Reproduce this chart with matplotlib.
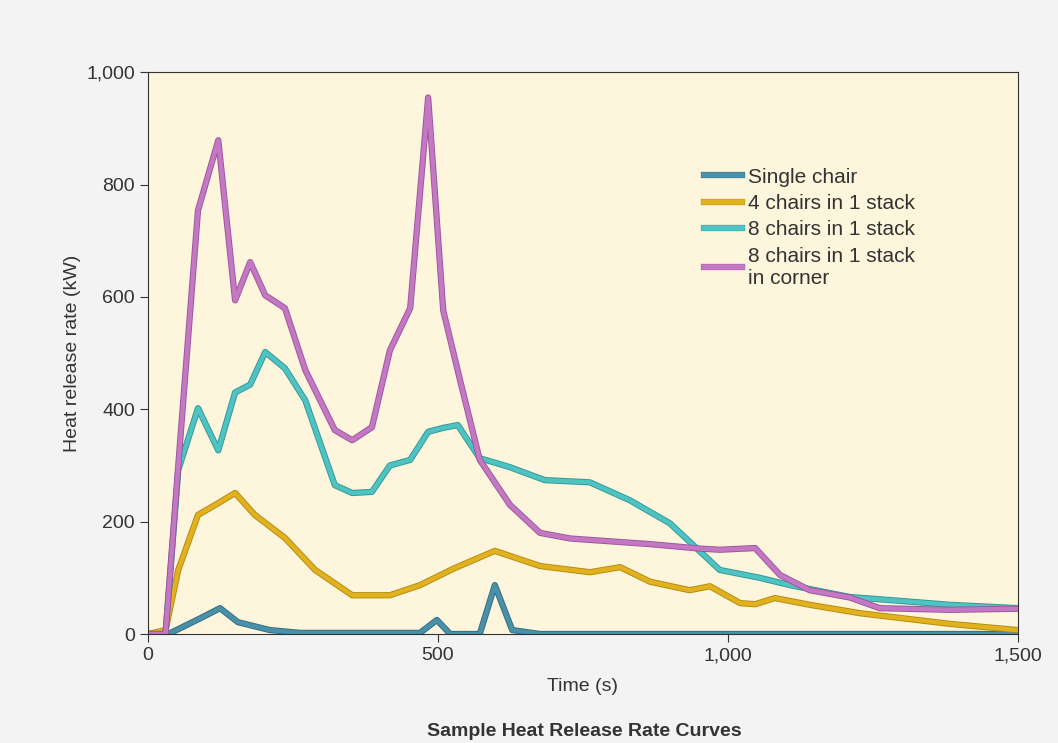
import matplotlib
matplotlib.use("Agg")
import matplotlib.pyplot as plt
import matplotlib.patheffects as pe
from matplotlib.ticker import FuncFormatter

plt.rcParams['font.family'] = ['Liberation Sans Narrow', 'Liberation Sans', 'DejaVu Sans']

single_t = [0, 35, 90, 124, 155, 210, 262, 469, 498, 521, 572, 598, 628, 676, 1500]
single_v = [0, 0, 28, 46, 21, 7, 2, 2, 25, 0, 0, 87, 7, 0, 0]

four_t = [0, 30, 52, 86, 121, 150, 184, 236, 288, 352, 417, 469, 528, 598, 676, 762, 814, 866, 934, 969, 1021, 1047, 1081, 1141, 1228, 1383, 1500]
four_v = [0, 7, 114, 212, 233, 251, 212, 171, 114, 69, 69, 87, 117, 148, 121, 110, 119, 93, 78, 85, 55, 53, 64, 52, 37, 18, 7]

eight_t = [0, 30, 52, 86, 121, 150, 176, 202, 236, 271, 322, 352, 386, 417, 452, 483, 509, 534, 572, 624, 684, 762, 831, 900, 986, 1055, 1107, 1210, 1383, 1500]
eight_v = [0, 0, 292, 402, 327, 430, 444, 502, 473, 416, 265, 251, 253, 300, 310, 360, 367, 372, 313, 297, 274, 270, 238, 197, 114, 100, 87, 66, 52, 46]

corner_t = [0, 30, 52, 86, 121, 150, 176, 202, 236, 271, 322, 352, 386, 417, 452, 483, 509, 538, 572, 624, 676, 728, 866, 952, 986, 1047, 1090, 1141, 1210, 1262, 1383, 1500]
corner_v = [0, 0, 300, 754, 879, 594, 662, 603, 580, 470, 363, 345, 368, 505, 580, 955, 576, 452, 310, 230, 180, 170, 160, 152, 150, 153, 105, 78, 65, 46, 43, 45]

fig = plt.figure(figsize=(10.58, 7.43), dpi=100, facecolor='#f3f3f3')
ax = fig.add_axes([0.14, 0.1467, 0.822, 0.756])
ax.set_facecolor('#fdf5dc')

series = [
    (single_t, single_v, '#4a90a8', '#2f6d82', 'Single chair'),
    (four_t, four_v, '#e2b11e', '#b08a10', '4 chairs in 1 stack'),
    (eight_t, eight_v, '#4fc2c2', '#2e9898', '8 chairs in 1 stack'),
    (corner_t, corner_v, '#c478c4', '#9a559a', '8 chairs in 1 stack\nin corner'),
]
for t, v, c, ec, lab in series:
    ax.plot(t, v, color=c, lw=3.2, label=lab,
            path_effects=[pe.Stroke(linewidth=4.5, foreground=ec), pe.Normal()])

ax.set_xlim(0, 1500)
ax.set_ylim(0, 1000)
ax.set_xticks([0, 500, 1000, 1500])
ax.set_yticks([0, 200, 400, 600, 800, 1000])
fmt = FuncFormatter(lambda x, p: f"{int(x):,}")
ax.xaxis.set_major_formatter(fmt)
ax.yaxis.set_major_formatter(fmt)
ax.tick_params(labelsize=14, colors='#333333', length=6, direction='out')
for s in ax.spines.values():
    s.set_color('#333333')
ax.set_ylabel('Heat release rate (kW)', fontsize=14, color='#333333')
ax.set_xlabel('Time (s)', fontsize=14, color='#333333', labelpad=10)
fig.text(0.552, 0.01, 'Sample Heat Release Rate Curves', ha='center', fontsize=14,
         fontweight='bold', color='#333333')
leg = ax.legend(loc='upper left', bbox_to_anchor=(0.63, 0.845), frameon=False, fontsize=15,
                handlelength=1.8, handletextpad=0.3, labelspacing=0.35, borderaxespad=0)
for h in leg.get_lines():
    h.set_linewidth(4)
for txt in leg.get_texts():
    txt.set_color('#333333')
fig.savefig('out.png', dpi=100, facecolor=fig.get_facecolor())
